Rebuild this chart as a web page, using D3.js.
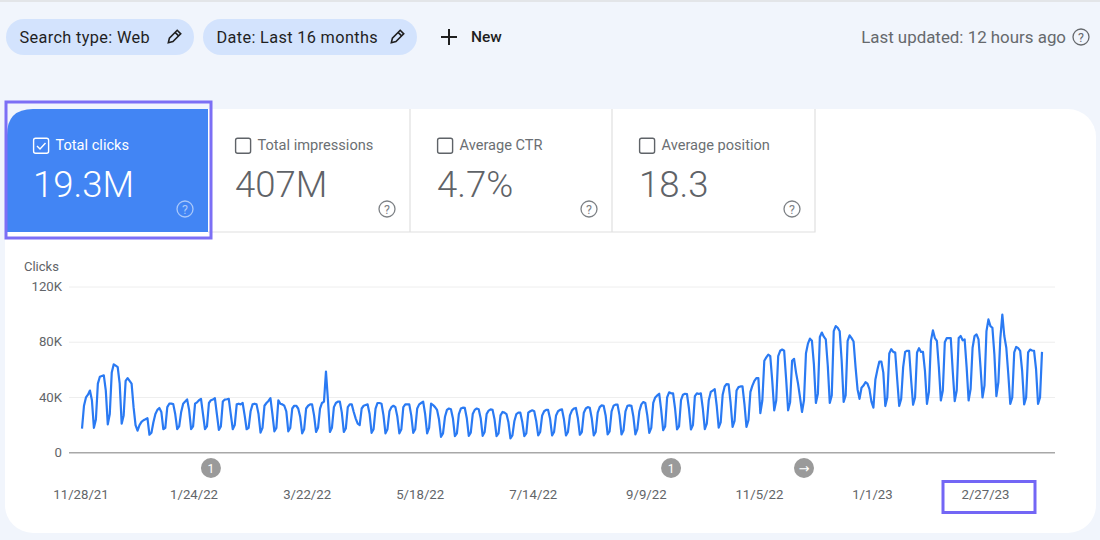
<!DOCTYPE html>
<html>
<head>
<meta charset="utf-8"/>
<title>Search performance</title>
<style>
  html, body { margin: 0; padding: 0; background: #f1f5fc; overflow: hidden; }
  svg text { font-family: Roboto, sans-serif; }
  .axis .domain { display: none; }
  .axis line { display: none; }
  .axis text { font-size: 13.2px; fill: #626569; font-family: Roboto, sans-serif; }
</style>
</head>
<body>
<svg id="chart" width="1100" height="540"></svg>
<script src="https://cdnjs.cloudflare.com/ajax/libs/d3/7.8.5/d3.min.js"></script>
<script>
var startDate = '11/28/21';
var xTickLabels = ['11/28/21', '1/24/22', '3/22/22', '5/18/22', '7/14/22', '9/9/22', '11/5/22', '1/1/23', '2/27/23'];
var yTickValues = [0, 40, 80, 120];
var annotationDates = ['2/1/22', '9/21/22', '11/27/22'];
var annotationLabels = ['1', '1', '→'];
var metricNames = ['Total clicks', 'Total impressions', 'Average CTR', 'Average position'];
var metricValues = ['19.3M', '407M', '4.7%', '18.3'];
var filterNames = ['Search type: Web', 'Date: Last 16 months'];

// daily clicks in thousands, one row per week, Sunday to Saturday
var clicksK = [
  17.5,34,40,42,45,38,18,
  24,50,55,55.5,56,45,20.5,
  28,58,64,63,62,50,21,
  27,52,54,52,50,33,20,
  16,20,22.3,23.5,24.2,25,13,
  14.4,22,28,31,32.4,29.5,17,
  18,33,35.5,35.5,35.2,28,17,
  19,29.5,35.5,37,38.6,31,17,
  19,35.5,36.5,38,39,28,17,
  19,36,38,38.5,39.5,28,16.5,
  19,37,38.5,38.7,39,28,17,
  20,35,35.5,35,36,27,17,
  18,30,35,35.5,35,28,14.5,
  18,34,36,37.5,39.5,28,15.5,
  18,38,35.5,35,34,30,15.5,
  18,32,34,34,32,26,14,
  17,32,34,35,35,27,15,
  18,32,36,37,58.8,38,15,
  18,33,36,37,37,29,15,
  17.5,33,35,35,29.5,24.7,21,
  20,32,34,34.5,35,28,14.4,
  17,32,36,36,35.5,27,14,
  17,30,33,34,33,26,14,
  17,33,35,35,35,27,14.4,
  17,32,35,36,37,28,14,
  18,35.5,34.5,33,31,24,11.5,
  14,26,31,32,31.5,25,12,
  14,28,32,32.6,32.4,25,12.2,
  14.5,28,31,32,31.5,25,12.2,
  15,28,30.5,31.4,31,24,12,
  14,27,29.5,29,28,22,10.3,
  12.5,23,28,29,29,22,12,
  14,29,30,30.7,30,23,12.5,
  15,27,30,31,31,24.5,12.5,
  15,27,30,31,31.4,24,12.5,
  15,27,30.5,32,32.4,25,13,
  15,29,32,33,32.5,25,12.5,
  15,29,33,34.3,34,27,13.2,
  15.5,30,34,34.8,34.8,27,13.2,
  16,30,34,34.3,34,26,13.2,
  17,30,35,36.7,36,27,14.4,
  18,36,40,41.5,42.7,31,16.3,
  19,40,43.7,43,43,32,16.8,
  19,38,42,42.7,42.5,32,16.8,
  20,41,43,42.5,43,32,17,
  21,38,44,45,46,34,18.2,
  22,42,48,49.7,49.5,36,18.7,
  23,45,47.5,48,48,35,18.7,
  23.5,44,48.6,52,54,54,28.7,
  37.8,66.6,69,71,70,52,30.7,
  37.8,70,73.8,74.7,73.8,53.4,30.7,
  36.6,66.6,68,58,50,40,29.5,
  38,72,79,82.6,81,64,36,
  42.6,83.8,87,84,82,63,36,
  41.4,88,91.7,90.5,88,66.6,36.7,
  41.4,81,85,83,80.5,62,46,
  39,47,48.6,51,50,46,37,
  32.6,53,60,66,66,58,33.8,
  40,71.8,75,73,72.5,53,33.8,
  39,62,73,73.8,73.8,53,34.7,
  40,72.6,75.7,73,73,59,35.4,
  44,81,88.6,83,81,62,37.8,
  45,80,83,83,83,59,37.4,
  45,83,84.5,81.4,82,62,37.8,
  46,76,84.5,85.7,82,62,40,
  48.6,88,96.5,91.7,90.5,71,41,
  51,83,100,84.5,76,57,35.4,
  40,72.6,76.6,75.7,73.8,59,35,
  40,72.6,74.7,74,73.8,60.6,35.4,
  40,73
];

var svg = d3.select('#chart');
var parseDay = d3.utcParse('%m/%d/%y');
var formatDay = d3.utcFormat('%-m/%-d/%y');
var start = parseDay(startDate);

var series = clicksK.map(function(v, i) {
  return {date: d3.utcDay.offset(start, i), value: v};
});

var x = d3.scaleUtc()
  .domain(d3.extent(series, function(d) { return d.date; }))
  .range([82, 1042]);
var y = d3.scaleLinear().domain([0, 120]).range([452.7, 287]);

// page background strip and white panel
svg.append('rect').attr('width', 1100).attr('height', 2).attr('fill', '#e3e5e8');
svg.append('rect').attr('x', 5).attr('y', 109).attr('width', 1091).attr('height', 424)
  .attr('rx', 28).attr('fill', '#fff');

// filter pills
var pillBoxes = [[6, 188], [203, 214]];
filterNames.forEach(function(name, i) {
  var p = pillBoxes[i];
  svg.append('rect').attr('x', p[0]).attr('y', 19).attr('width', p[1]).attr('height', 36)
    .attr('rx', 18).attr('fill', '#d3e3fd');
  svg.append('text').attr('x', p[0] + 13.5).attr('y', 42.5).text(name)
    .attr('font-size', 16.3).attr('letter-spacing', 0.35).attr('fill', '#1f1f1f');
  pencil(p[0] + p[1] - 20, 37);
});

function pencil(cx, cy) {
  svg.append('path')
    .attr('transform', 'translate(' + cx + ',' + cy + ') rotate(45)')
    .attr('d', 'M-2.5,-7 H2.5 V4 L0,8 L-2.5,4 Z M-2.5,-4 H2.5')
    .attr('fill', 'none').attr('stroke', '#1f1f1f').attr('stroke-width', 1.6);
}

svg.append('path').attr('d', 'M449,29 V45 M441,37 H457')
  .attr('stroke', '#1f1f1f').attr('stroke-width', 2);
svg.append('text').attr('x', 471).attr('y', 42).text('New')
  .attr('font-size', 15.5).attr('font-weight', 500).attr('fill', '#1f1f1f');

svg.append('text').attr('x', 1066).attr('y', 43).attr('text-anchor', 'end')
  .text('Last updated: 12 hours ago').attr('font-size', 16.9).attr('fill', '#66696d');
helpIcon(1081, 37, '#66696d');

function helpIcon(cx, cy, color) {
  svg.append('circle').attr('cx', cx).attr('cy', cy).attr('r', 8)
    .attr('fill', 'none').attr('stroke', color).attr('stroke-width', 1.3);
  svg.append('text').attr('x', cx).attr('y', cy + 4.5).attr('text-anchor', 'middle')
    .attr('font-size', 12.5).attr('fill', color).text('?');
}

// metric cards
var cardLeft = [7, 209, 411, 613];
var cardRight = [208, 410, 612, 815];
svg.append('path')
  .attr('d', 'M7,232 V135 Q7,109 33,109 H208 V232 Z')
  .attr('fill', '#4285f4');
svg.append('path')
  .attr('d', 'M208,232 H815 V109 M410,109 V232 M612,109 V232')
  .attr('fill', 'none').attr('stroke', '#e0e0e0').attr('stroke-width', 1.2);

metricNames.forEach(function(name, i) {
  var left = cardLeft[i] + 26;
  var active = i === 0;
  var color = active ? '#fff' : '#5f6368';
  svg.append('rect').attr('x', left + 0.6).attr('y', 138.2).attr('width', 15).attr('height', 15)
    .attr('rx', 2).attr('fill', 'none').attr('stroke', color).attr('stroke-width', 1.4);
  if (active) {
    svg.append('path').attr('d', 'M' + (left + 4) + ',146 l3,3 l5.5,-6')
      .attr('fill', 'none').attr('stroke', '#fff').attr('stroke-width', 1.4);
  }
  svg.append('text').attr('x', left + 22.5).attr('y', 150).text(name)
    .attr('font-size', 14.6).attr('fill', active ? '#fff' : '#6b6f73');
  svg.append('text').attr('x', left).attr('y', 197).text(metricValues[i])
    .attr('font-size', 36.5).attr('font-weight', 300).attr('fill', active ? '#fff' : '#5f6368');
  helpIcon(cardRight[i] - 23, 209, active ? '#a9c8fa' : '#7d8185');
});

// highlight frames
svg.append('rect').attr('x', 6).attr('y', 102).attr('width', 205).attr('height', 136)
  .attr('fill', 'none').attr('stroke', '#7c6ff5').attr('stroke-width', 3);

// chart
svg.append('text').attr('x', 24).attr('y', 271).text('Clicks')
  .attr('font-size', 13).attr('fill', '#5f6368');

var yAxis = d3.axisLeft(y).tickValues(yTickValues)
  .tickFormat(function(d) { return d === 0 ? '0' : d + 'K'; });
svg.append('g').attr('class', 'axis').attr('transform', 'translate(62,-0.5)').call(yAxis)
  .call(function(g) { g.selectAll('text').attr('x', 0); });

svg.append('g').selectAll('line').data(yTickValues).join('line')
  .attr('x1', 69).attr('x2', 1055)
  .attr('y1', function(d) { return y(d); })
  .attr('y2', function(d) { return y(d); })
  .attr('stroke', function(d) { return d === 0 ? '#a8a8a8' : '#eeeeee'; })
  .attr('stroke-width', function(d) { return d === 0 ? 1.5 : 1; });

var line = d3.line()
  .x(function(d) { return x(d.date); })
  .y(function(d) { return y(d.value); });

svg.append('path').datum(series)
  .attr('d', line)
  .attr('fill', 'none')
  .attr('stroke', '#2a7af3')
  .attr('stroke-width', 2.2)
  .attr('stroke-linejoin', 'round');

var xAxis = d3.axisBottom(x).tickValues(xTickLabels.map(parseDay)).tickFormat(formatDay);
svg.append('g').attr('class', 'axis').attr('transform', 'translate(-1.5,490)').call(xAxis)
  .call(function(g) { g.selectAll('text').attr('y', 0).attr('dy', '0.71em'); });

var notes = svg.append('g').selectAll('g').data(annotationDates).join('g')
  .attr('transform', function(d) { return 'translate(' + x(parseDay(d)) + ',468)'; });
notes.append('circle').attr('r', 10).attr('fill', '#9a9a9a');
notes.append('text').attr('text-anchor', 'middle').attr('y', 4.5)
  .attr('font-size', function(d, i) { return annotationLabels[i] === '→' ? 13 : 12; })
  .attr('fill', '#fff')
  .style('font-family', function(d, i) { return annotationLabels[i] === '→' ? 'DejaVu Sans' : null; })
  .text(function(d, i) { return annotationLabels[i]; });

svg.append('rect').attr('x', 943).attr('y', 481.5).attr('width', 92).attr('height', 31)
  .attr('fill', 'none').attr('stroke', '#7366f5').attr('stroke-width', 3);
</script>
</body>
</html>
